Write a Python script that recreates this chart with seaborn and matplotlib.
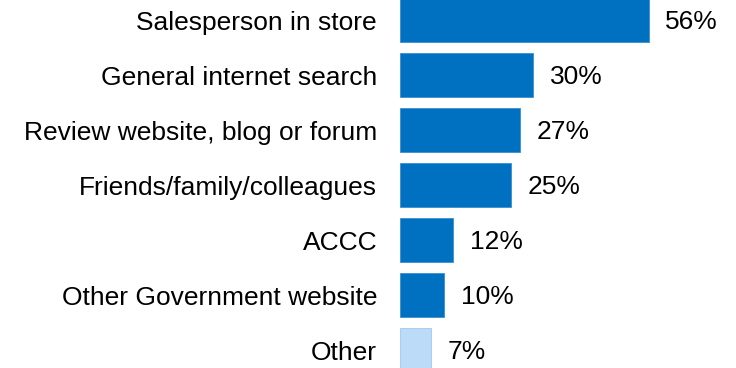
import matplotlib
matplotlib.use("Agg")
import matplotlib.pyplot as plt
import seaborn as sns
import pandas as pd

categories = [
    "Salesperson in store",
    "General internet search",
    "Review website, blog or forum",
    "Friends/family/colleagues",
    "ACCC",
    "Other Government website",
    "Other",
]
values = [56, 30, 27, 25, 12, 10, 7]
bar_colors = ["#0070C0"] * 6 + ["#BBDBF8"]

sns.set_theme(style="white")
plt.rcParams["font.family"] = ["Liberation Sans", "DejaVu Sans"]

df = pd.DataFrame({"source": categories, "pct": values})

fig = plt.figure(figsize=(7.36, 3.68), dpi=100)
ax = fig.add_axes([400 / 736, 0, 336 / 736, 1])

sns.barplot(
    data=df, x="pct", y="source", hue="source",
    palette=bar_colors, orient="h", width=0.8,
    legend=False, ax=ax, saturation=1,
    edgecolor="#3A8FD0", linewidth=0.6,
)
for bar, c in zip(ax.patches, bar_colors):
    bar.set_edgecolor("#9FCBEE" if c != "#0070C0" else "#3A8FD0")

# value labels to the right of each bar
for i, v in enumerate(values):
    ax.text(v + 3.8, i + 0.03, f"{v}%", va="center", ha="left",
            fontsize=19, color="#000000")

ax.set_xlim(0, 75.7)
ax.set_ylim(6.32, -0.37)
ax.set_xlabel("")
ax.set_ylabel("")
ax.set_xticks([])
ax.tick_params(axis="y", length=0, pad=16.5, labelsize=19, labelcolor="#000000")
for s in ax.spines.values():
    s.set_visible(False)

fig.savefig("out.png", dpi=100)
